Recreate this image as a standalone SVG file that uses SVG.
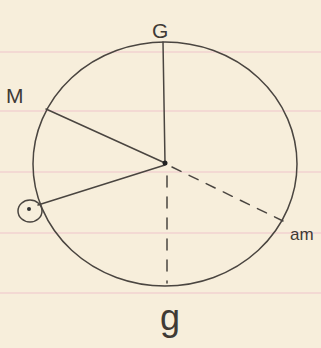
<svg xmlns="http://www.w3.org/2000/svg" width="321" height="348" viewBox="0 0 321 348">
<style>
.pen{fill:none;stroke:#4a4540;stroke-width:1.5;stroke-linecap:round}
.rule{stroke:#efc4cc;stroke-width:1.2}
.lbl{font-family:"Liberation Sans",sans-serif;fill:#3f3a35}
</style>
<rect width="321" height="348" fill="#f7eedb"/>
<g id="paper">
<line class="rule" x1="0" y1="52" x2="321" y2="52"/>
<line class="rule" x1="0" y1="111" x2="321" y2="111"/>
<line class="rule" x1="0" y1="172" x2="321" y2="172"/>
<line class="rule" x1="0" y1="233" x2="321" y2="233"/>
<line class="rule" x1="0" y1="293" x2="321" y2="293"/>
</g>
<g id="circle"><ellipse class="pen" cx="165" cy="164" rx="132" ry="122"/></g>
<g id="connectors">
<line class="pen" x1="165" y1="163" x2="163" y2="42"/>
<line class="pen" x1="165" y1="163" x2="46" y2="109"/>
<line class="pen" x1="165" y1="165" x2="38" y2="205"/>
<line class="pen" x1="172" y1="167" x2="283" y2="221" stroke-dasharray="10 9"/>
<line class="pen" x1="167" y1="176" x2="167" y2="283" stroke-dasharray="11 10"/>
</g>
<g id="center"><circle cx="165" cy="163" r="2.5" fill="#222"/></g>
<g id="bulb"><ellipse class="pen" cx="30" cy="211" rx="12" ry="11"/><circle cx="29" cy="209" r="2" fill="#333"/></g>
<g id="G"><text class="lbl" x="152" y="38" font-size="21">G</text></g>
<g id="M"><text class="lbl" x="6" y="103" font-size="21">M</text></g>
<g id="am"><text class="lbl" x="290" y="240" font-size="17">am</text></g>
<g id="g"><text class="lbl" x="160" y="330" font-size="36">g</text></g>
</svg>
